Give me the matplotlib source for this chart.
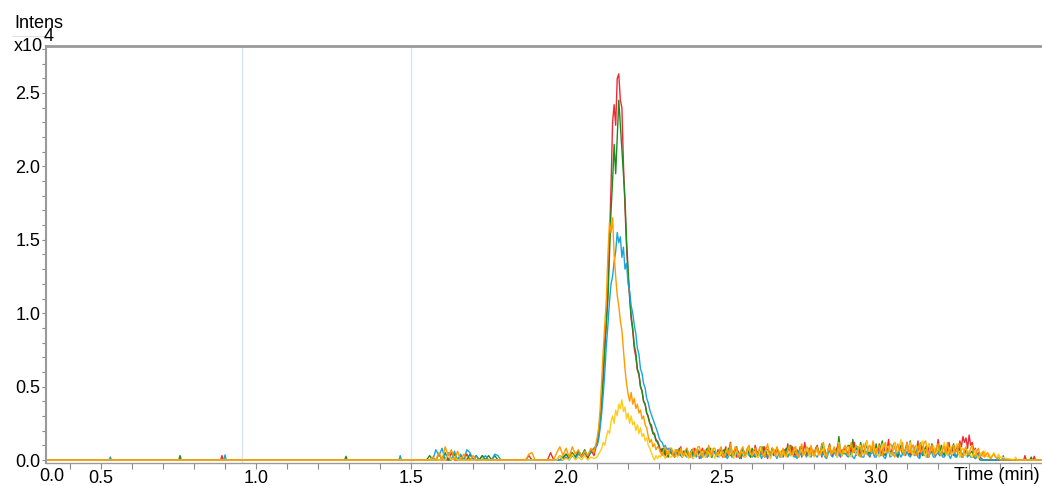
import numpy as np
import matplotlib.pyplot as plt
from matplotlib.lines import Line2D
from matplotlib.ticker import MultipleLocator

plt.rcParams['font.family'] = ['Liberation Sans', 'DejaVu Sans']

# retention time grid of the dense part of the traces (min)
time = np.concatenate([np.arange(155, 210) / 100,
                       np.arange(420, 460) / 200,
                       np.arange(460, 681) / 200])

# intensities, x10^4 counts
red = [0, 0, 0, 0, 0, 0, 0, 0, .05, 0, 0, 0, 0, .04, 0, 0, 0, 0, .03, 0,
       0, 0, 0, 0, 0, 0, 0, 0, 0, 0, 0, 0, 0, .03, 0, 0, 0, 0, 0, 0,
       .05, 0, 0, .03, .01, .04, .02, .05, .01, .06, .02, .05, .01, .07, .03,
       .12, .18, .28, .42, .60, .82, .92, 1.18, 1.50, 1.86, 2.30, 2.42, 2.28, 2.60, 2.63,
       2.45, 2.40, 2.02, 1.72, 1.45, 1.25, 1.10, .96, .88, .76, .70, .61, .58, .50, .47,
       .40, .38, .32, .30, .25, .24, .19, .18, .14, .13,
       .10, .06, .08, .03, .07, .02, .05, .08, .04, .06,
       .02, .07, .03, .05, .09, .02, .06, .04, .08, .03,
       .02, .06, .04, .08, .03, .07, .01, .05, .08, .03,
       .06, .02, .09, .04, .02, .06, .05, .03, .07, .04,
       .07, .02, .05, .09, .03, .06, .12, .02, .04, .07,
       .02, .06, .03, .01, .08, .05, .03, .07, .04, .02,
       .06, .03, .10, .05, .02, .07, .04, .03, .09, .05,
       .01, .06, .04, .08, .06, .03, .08, .04, .02, .06,
       .03, .07, .04, .11, .06, .03, .09, .05, .02, .07,
       .04, .09, .02, .06, .12, .03, .05, .08, .04, .07,
       .03, .08, .10, .04, .06, .02, .08, .05, .02, .07,
       .11, .04, .03, .08, .06, .09, .04, .02, .07, .05,
       .08, .03, .06, .10, .04, .07, .12, .03, .05, .09,
       .03, .07, .05, .10, .13, .04, .02, .07, .09, .03,
       .08, .05, .11, .03, .07, .09, .04, .06, .14, .05,
       .03, .09, .10, .04, .02, .07, .09, .05, .04, .08,
       .12, .05, .03, .09, .10, .06, .04, .13, .02, .07,
       .09, .04, .06, .02, .11, .07, .05, .09, .03, .06,
       .14, .06, .03, .08, .10, .04, .07, .12, .05, .08,
       .03, .06, .10, .04, .13, .09, .16, .12, .15, .08,
       .17, .10, .12, .06, .08, .03, .05, .02, .01, 0,
       0, 0, 0, 0, 0, 0, 0, 0, 0, 0,
       0]

green = [0, .03, 0, 0, .04, 0, .05, 0, 0, .04, 0, .03, 0, 0, .04, 0, .03, 0, .03, 0,
         .03, 0, .03, 0, 0, 0, 0, 0, 0, 0, 0, 0, 0, 0, 0, 0, 0, 0, 0, 0,
         0, 0, 0, 0, .02, .04, .01, .05, .02, .06, .03, .07, .02, .05, .08,
         .10, .16, .25, .38, .55, .75, .95, 1.10, 1.40, 1.70, 1.90, 2.15, 1.95, 2.20, 2.45,
         2.28, 2.10, 1.95, 1.78, 1.50, 1.30, 1.12, .98, .90, .78, .73, .62, .59, .50, .47,
         .40, .38, .32, .29, .25, .22, .18, .17, .13, .12,
         .09, .05, .07, .08, .03, .06, .02, .05, .07, .04,
         .02, .06, .04, .08, .03, .02, .06, .04, .07, .03,
         .04, .07, .01, .05, .07, .03, .06, .04, .02, .06,
         .05, .08, .03, .08, .02, .04, .06, .03, .05, .07,
         .03, .06, .07, .02, .04, .08, .03, .05, .06, .03,
         .09, .04, .01, .06, .07, .03, .04, .08, .05, .02,
         .08, .03, .02, .06, .04, .07, .05, .09, .02, .05,
         .07, .03, .04, .08, .03, .06, .08, .05, .03, .06,
         .02, .06, .08, .03, .04, .10, .03, .05, .07, .04,
         .02, .06, .09, .04, .05, .07, .03, .08, .06, .04,
         .03, .07, .09, .04, .05, .11, .04, .07, .02, .06,
         .10, .04, .05, .08, .04, .07, .16, .05, .03, .07,
         .04, .08, .10, .03, .05, .14, .05, .07, .09, .03,
         .12, .06, .03, .08, .10, .04, .05, .09, .06, .03,
         .11, .05, .04, .09, .13, .04, .03, .07, .09, .05,
         .06, .10, .12, .04, .02, .08, .10, .04, .05, .07,
         .09, .04, .13, .06, .04, .08, .10, .05, .06, .12,
         .03, .07, .09, .04, .02, .06, .11, .05, .06, .08,
         .06, .03, .10, .05, .03, .07, .09, .04, .05, .08,
         .11, .03, .02, .06, .08, .04, .04, .07, .05, .03,
         .03, .05, .06, .02, .01, .03, .02, 0, 0, 0,
         0, 0, 0, 0, 0, 0, 0, 0, 0, 0,
         0]

blue = [0, 0, 0, .07, .03, .08, 0, .05, 0, .06, 0, .04, 0, .07, .05, 0, .03, 0, 0, .03,
        0, 0, .04, .03, 0, 0, 0, 0, 0, 0, 0, 0, 0, 0, 0, 0, 0, 0, 0, 0,
        0, 0, 0, 0, 0, .02, 0, .03, .01, .04, .02, .05, .03, .06, .08,
        .10, .14, .22, .32, .45, .60, .78, .92, 1.08, 1.20, 1.25, 1.35, 1.42, 1.55, 1.48,
        1.52, 1.38, 1.45, 1.30, 1.34, 1.20, 1.15, 1.05, 1.00, .92, .86, .76, .72, .62, .59,
        .52, .49, .42, .39, .34, .31, .28, .25, .22, .19,
        .15, .13, .12, .09, .10, .07, .08, .06, .07, .04,
        .05, .06, .03, .05, .04, .02, .05, .03, .02, .04,
        .04, .02, .03, .05, .02, .04, .03, .01, .05, .03,
        .04, .02, .03, .05, .02, .04, .05, .03, .02, .04,
        .03, .05, .02, .04, .01, .03, .06, .02, .04, .03,
        .05, .02, .04, .06, .03, .02, .04, .05, .03, .06,
        .02, .04, .03, .05, .02, .05, .01, .03, .06, .02,
        .03, .05, .02, .04, .05, .03, .01, .04, .05, .02,
        .03, .05, .06, .02, .04, .03, .05, .02, .03, .01,
        .06, .04, .03, .05, .05, .02, .04, .03, .02, .05,
        .05, .03, .02, .04, .06, .03, .05, .02, .01, .04,
        .07, .03, .02, .05, .04, .02, .05, .03, .03, .05,
        .06, .03, .02, .04, .05, .02, .01, .04, .06, .03,
        .04, .02, .02, .05, .06, .03, .03, .05, .05, .02,
        .02, .04, .06, .03, .04, .02, .01, .05, .07, .02,
        .03, .05, .05, .03, .06, .04, .02, .04, .05, .03,
        .06, .03, .02, .04, .05, .03, .07, .02, .01, .04,
        .05, .03, .06, .02, .03, .05, .05, .02, .02, .04,
        .05, .03, .06, .02, .02, .04, .05, .03, .01, .04,
        .06, .02, .03, .05, .05, .02, .02, .04, .04, .02,
        .05, .02, .02, .03, .01, .02, .04, .01, 0, 0,
        0, 0, 0, 0, 0, 0, 0, 0, 0, 0,
        0]

orange = [0, 0, .02, 0, .05, 0, .09, .03, .07, 0, .06, 0, .04, 0, 0, .03, 0, 0, 0, 0,
          0, 0, 0, 0, 0, 0, 0, 0, 0, 0, 0, 0, 0, .04, .05, 0, 0, 0, 0, 0,
          0, 0, .05, .09, .03, .08, .02, .09, .04, .07, .02, .06, .03, .08, .05,
          .15, .22, .35, .55, .75, .92, 1.10, 1.40, 1.62, 1.55, 1.65, 1.40, 1.25, 1.12, 1.05,
          .95, .88, .75, .62, .52, .45, .40, .46, .38, .42, .35, .38, .32, .34, .28,
          .30, .24, .22, .16, .12, .14, .09, .11, .07, .09,
          .08, .05, .03, .07, .09, .04, .04, .08, .08, .03,
          .02, .06, .07, .03, .08, .05, .03, .07, .08, .04,
          .02, .06, .08, .03, .04, .09, .09, .05, .02, .06,
          .07, .03, .10, .05, .03, .08, .08, .04, .04, .07,
          .09, .04, .02, .06, .07, .03, .11, .06, .03, .09,
          .08, .03, .02, .07, .09, .04, .04, .08, .10, .05,
          .03, .07, .08, .04, .05, .09, .09, .03, .02, .07,
          .11, .05, .04, .08, .07, .03, .09, .06, .02, .05,
          .08, .04, .03, .07, .10, .05, .04, .08, .09, .03,
          .02, .07, .11, .04, .05, .09, .08, .04, .10, .06,
          .03, .07, .09, .04, .05, .10, .12, .05, .02, .07,
          .10, .04, .06, .09, .03, .06, .11, .05, .04, .08,
          .10, .05, .03, .08, .12, .05, .06, .10, .09, .03,
          .02, .08, .11, .05, .04, .09, .10, .05, .13, .07,
          .04, .08, .10, .04, .03, .09, .12, .05, .06, .11,
          .10, .04, .02, .08, .11, .06, .07, .12, .03, .06,
          .12, .06, .05, .09, .10, .04, .03, .08, .11, .05,
          .07, .12, .13, .05, .02, .07, .10, .04, .05, .09,
          .11, .05, .03, .08, .09, .04, .12, .06, .04, .09,
          .10, .05, .06, .11, .11, .04, .02, .07, .09, .04,
          .04, .08, .10, .04, .02, .06, .08, .03, .03, .06,
          .02, .04, .05, .02, .01, .03, .04, .02, .01, .02,
          0]

yellow = [0, 0, 0, 0, 0, 0, 0, .04, 0, .02, 0, 0, 0, 0, 0, 0, 0, 0, 0, 0,
          0, 0, 0, 0, 0, 0, 0, 0, 0, 0, 0, 0, 0, 0, 0, 0, 0, 0, 0, 0,
          0, 0, 0, .03, 0, .01, 0, .04, 0, .02, 0, .03, 0, .02, .01,
          .02, .04, .06, .08, .12, .10, .16, .20, .18, .26, .30, .25, .34, .30, .38,
          .35, .41, .33, .36, .28, .32, .25, .30, .24, .26, .20, .24, .18, .22, .16,
          .18, .13, .15, .10, .08, .05, .02, 0, .03, .01,
          .03, .02, .05, .03, .01, .04, .06, .02, .02, .05,
          .07, .03, .02, .05, .06, .02, .03, .05, .03, .01,
          .05, .02, .01, .04, .07, .03, .03, .05, .06, .02,
          .02, .06, .05, .02, .08, .04, .01, .04, .05, .02,
          .06, .03, .02, .05, .08, .03, .04, .07, .01, .03,
          .07, .04, .03, .06, .05, .02, .02, .06, .09, .04,
          .03, .05, .06, .02, .02, .06, .08, .03, .04, .07,
          .06, .03, .01, .05, .07, .03, .03, .06, .06, .02,
          .07, .03, .02, .05, .06, .03, .03, .06, .09, .04,
          .02, .06, .07, .03, .04, .07, .06, .02, .08, .04,
          .02, .05, .07, .03, .04, .06, .08, .03, .03, .07,
          .09, .04, .05, .08, .05, .02, .12, .06, .03, .07,
          .05, .08, .09, .03, .02, .07, .08, .04, .04, .09,
          .10, .05, .03, .08, .13, .06, .06, .09, .09, .04,
          .08, .04, .02, .07, .11, .05, .05, .09, .09, .04,
          .03, .08, .12, .05, .06, .10, .14, .06, .04, .07,
          .09, .05, .12, .06, .03, .07, .10, .05, .06, .11,
          .13, .05, .02, .08, .11, .06, .07, .10, .04, .05,
          .10, .05, .06, .09, .12, .05, .03, .07, .09, .04,
          .05, .08, .11, .05, .02, .07, .08, .04, .03, .06,
          .06, .03, .02, .05, .07, .03, .01, .04, .05, .02,
          .06, .03, .02, .04, .01, .03, .05, .02, .02, .04,
          .02]

# isolated single-scan spikes outside the dense region (time, intensity)
red_spikes = [(0.89, 0.03), (3.48, 0.03), (3.51, 0.025)]
green_spikes = [(0.755, 0.03), (1.29, 0.025), (3.50, 0.02)]
blue_spikes = [(0.53, 0.02), (0.90, 0.035), (1.465, 0.03), (3.41, 0.03)]
orange_spikes = []
yellow_spikes = [(3.45, 0.02)]

marker_times = [0.955, 1.5]


def trace(values, spikes):
    t = [0.3] + list(time) + [3.6]
    y = [0.0] + list(values) + [0.0]
    for ts, v in spikes:
        t += [ts - 0.004, ts, ts + 0.004]
        y += [0.0, v, 0.0]
    order = np.argsort(t)
    return np.array(t)[order], np.array(y)[order]


fig = plt.figure(figsize=(10.42, 4.86), dpi=100)
ax = fig.add_axes([46 / 1042, 1 - 462.5 / 486, 1 - 46 / 1042, 416.5 / 486])

for t in marker_times:
    ax.axvline(t, color='#cfe4f4', lw=0.9, zorder=1)

series = [(red, red_spikes, '#ee2a36'),
          (green, green_spikes, '#1d8c1d'),
          (blue, blue_spikes, '#1ba3de'),
          (yellow, yellow_spikes, '#ffcc1a'),
          (orange, orange_spikes, '#ff9a00')]
for vals, spikes, col in series:
    t, y = trace(vals, spikes)
    ax.plot(t, y, color=col, lw=1.0, zorder=2)

ax.set_xlim(0.3226, 3.535)
ax.set_ylim(-0.017, 2.82)

ax.set_xticks([0.5, 1.0, 1.5, 2.0, 2.5, 3.0, 3.5])
ax.set_xticklabels(['0.5', '1.0', '1.5', '2.0', '2.5', '3.0', ''])
ax.xaxis.set_minor_locator(MultipleLocator(0.1))
ax.set_yticks([0.0, 0.5, 1.0, 1.5, 2.0, 2.5])
ax.set_yticklabels(['0.0', '0.5', '1.0', '1.5', '2.0', '2.5'])
ax.yaxis.set_minor_locator(MultipleLocator(0.1))

ax.tick_params(axis='both', which='both', direction='out', color='#8c8c8c',
               width=0.8, labelsize=13)
ax.tick_params(axis='x', which='both', length=4, pad=1.5)
ax.tick_params(axis='y', which='both', length=3, pad=1)

for side in ['top', 'left', 'bottom']:
    ax.spines[side].set_color('#9a9a9a')
ax.spines['top'].set_linewidth(2)
ax.spines['left'].set_linewidth(1.5)
ax.spines['bottom'].set_linewidth(1)
ax.spines['right'].set_visible(False)

# first label sits at the start of the axis
ax.text(0.342, -0.0144, '0.0', transform=ax.get_xaxis_transform(),
        ha='center', va='top', fontsize=13)
fig.text(1040 / 1042, 1 - 467 / 486, 'Time (min)', ha='right', va='top', fontsize=13)

fig.text(14 / 1042, 1 - 28 / 486, 'Intens', va='baseline', fontsize=13)
fig.text(14 / 1042, 1 - 51 / 486, 'x10', va='baseline', fontsize=13)
fig.text(44 / 1042, 1 - 41 / 486, '4', va='baseline', fontsize=13)
fig.add_artist(Line2D([12 / 1042, 46 / 1042], [1 - 36 / 486, 1 - 36 / 486],
                      color='#e2e2e2', lw=0.8))

fig.savefig('out.png', dpi=100)
